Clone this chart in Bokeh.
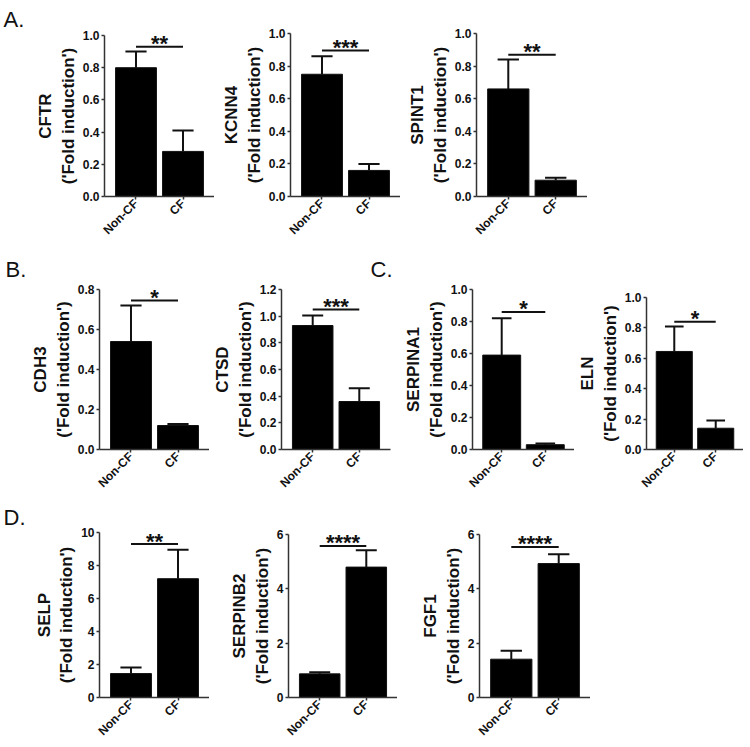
import math
from bokeh.plotting import figure
from bokeh.models import Range1d, FixedTicker, LinearAxis, NumeralTickFormatter
from bokeh.layouts import row, column
from bokeh.embed import file_html
from bokeh.resources import INLINE
from bokeh.core.properties import value

# ---------------- data ----------------
groups = ["Non-CF", "CF"]
genes = ["CFTR", "KCNN4", "SPINT1", "CDH3", "CTSD", "SERPINA1", "ELN", "SELP", "SERPINB2", "FGF1"]
non_cf_mean = [0.80, 0.75, 0.66, 0.54, 0.93, 0.59, 0.645, 1.45, 0.87, 1.41]
cf_mean = [0.28, 0.16, 0.10, 0.12, 0.36, 0.03, 0.14, 7.20, 4.80, 4.93]
non_cf_upper = [0.90, 0.86, 0.84, 0.72, 1.005, 0.82, 0.81, 1.82, 0.93, 1.72]
cf_upper = [0.41, 0.20, 0.115, 0.128, 0.46, 0.037, 0.19, 8.95, 5.42, 5.27]
sig_level = [0.93, 0.895, 0.87, 0.745, 1.05, 0.86, 0.84, 9.3, 5.58, 5.54]
sig_stars = ["**", "***", "**", "*", "***", "*", "*", "**", "****", "****"]
ticks_1 = ["0.0", "0.2", "0.4", "0.6", "0.8", "1.0"]
ticks_08 = ["0.0", "0.2", "0.4", "0.6", "0.8"]
ticks_12 = ["0.0", "0.2", "0.4", "0.6", "0.8", "1.0", "1.2"]
ticks_10 = ["0", "2", "4", "6", "8", "10"]
ticks_6 = ["0", "2", "4", "6"]
y_tick_labels = [ticks_1, ticks_1, ticks_1, ticks_08, ticks_12, ticks_1, ticks_1, ticks_10, ticks_6, ticks_6]
panel_letters = {"CFTR": "A.", "CDH3": "B.", "CTSD": "C.", "SELP": "D."}

# ---------------- style / geometry ----------------
FONT = "Liberation Sans"
AX = "#333333"
TXT = "#111111"
# gene: (width, height, left, top, frame_h, right)
geom = {
    "CFTR": (214, 245, 104, 35, 165, 0),
    "KCNN4": (186, 245, 76, 33, 165, 0),
    "SPINT1": (187, 245, 76, 33, 164, 0),
    "CDH3": (209, 253, 99, 44, 164, 0),
    "CTSD": (191, 253, 70, 44, 164, 10),
    "SERPINA1": (174, 253, 64, 44, 164, 0),
    "ELN": (169, 253, 63, 52, 157, 0),
    "SELP": (209, 248, 99, 34, 165, 0),
    "SERPINB2": (188, 248, 79, 36, 165, 0),
    "FGF1": (193, 248, 82, 36, 165, 0),
}
# panel letter: (offset from frame left, standoff above frame)
letter_place = {"CFTR": (-101, 7), "CDH3": (-94, 16), "CTSD": (89, 16), "SELP": (-96, 6)}


def make_panel(i):
    gene = genes[i]
    width, height, left, top, fh, right = geom[gene]
    bottom = height - top - fh
    labels = y_tick_labels[i]
    ticks = [float(t) for t in labels]
    xs = list(range(len(groups)))
    p = figure(width=width, height=height,
               x_range=Range1d(-0.67, 1.67), y_range=Range1d(0, ticks[-1]),
               output_backend="svg", toolbar_location=None,
               min_border_left=left, min_border_right=right,
               min_border_top=top, min_border_bottom=bottom,
               outline_line_color=None, background_fill_color="white")
    p.frame_align = False
    p.xgrid.visible = False
    p.ygrid.visible = False

    means = [non_cf_mean[i], cf_mean[i]]
    uppers = [non_cf_upper[i], cf_upper[i]]
    p.vbar(x=xs, top=means, bottom=0, width=0.87, fill_color="black", line_color="#111111", line_width=1)
    p.segment(x0=xs, y0=means, x1=xs, y1=uppers, line_color="#111111", line_width=2)
    p.segment(x0=[x - 0.225 for x in xs], y0=uppers, x1=[x + 0.225 for x in xs], y1=uppers,
              line_color="#111111", line_width=2)
    # significance bar
    p.segment(x0=[xs[0]], y0=[sig_level[i]], x1=[xs[1]], y1=[sig_level[i]],
              line_color="#111111", line_width=2)
    p.text(x=[(xs[0] + xs[1]) / 2], y=[sig_level[i]], text=[sig_stars[i]],
           text_align="center", text_baseline="alphabetic", y_offset=-3,
           text_font=value(FONT), text_font_style="bold", text_font_size="22px", text_color=TXT)

    # y axis
    yax = p.yaxis[0]
    yax.ticker = FixedTicker(ticks=ticks)
    yax.formatter = NumeralTickFormatter(format="0.0" if "." in labels[0] else "0")
    yax.axis_label = "('Fold induction')"
    for ax in (yax, p.xaxis[0]):
        ax.axis_line_color = AX
        ax.axis_line_width = 1.5
        ax.major_tick_line_color = AX
        ax.major_tick_line_width = 1.5
        ax.major_tick_in = 0
        ax.major_tick_out = 3
        ax.minor_tick_line_color = None
        ax.major_label_text_font = FONT
        ax.major_label_text_font_style = "bold"
        ax.major_label_text_color = TXT
    yax.major_label_text_font_size = "12px"
    yax.major_label_standoff = 2
    yax.axis_label_standoff = 2
    yax.axis_label_text_font = FONT
    yax.axis_label_text_font_style = "bold"
    yax.axis_label_text_font_size = "17px"
    yax.axis_label_text_color = TXT

    gax = LinearAxis(axis_label=gene, ticker=FixedTicker(ticks=[]),
                     axis_line_color=None, major_tick_line_color=None, minor_tick_line_color=None,
                     major_label_text_font_size="0px", major_tick_out=0, major_tick_in=0,
                     major_label_standoff=0, axis_label_standoff=1,
                     axis_label_text_font=FONT, axis_label_text_font_style="bold",
                     axis_label_text_font_size="17px", axis_label_text_color=TXT)
    p.add_layout(gax, "left")

    # x axis
    xax = p.xaxis[0]
    xax.ticker = FixedTicker(ticks=xs)
    xax.major_label_overrides = {x: g for x, g in zip(xs, groups)}
    xax.major_label_orientation = math.pi / 4
    xax.major_label_text_font_size = "12px"
    xax.major_label_standoff = 2

    if gene in panel_letters:
        off, stand = letter_place[gene]
        p.title.text = panel_letters[gene]
        p.title.align = "left"
        p.title.offset = off
        p.title.standoff = stand
        p.title.text_font = FONT
        p.title.text_font_size = "22px"
        p.title.text_font_style = "normal"
        p.title.text_color = TXT
    return p


panels = [make_panel(i) for i in range(len(genes))]
layout = column(
    row(panels[0], panels[1], panels[2]),
    row(panels[3], panels[4], panels[5], panels[6]),
    row(panels[7], panels[8], panels[9]),
)

open("out.html", "w").write(file_html(layout, INLINE))
